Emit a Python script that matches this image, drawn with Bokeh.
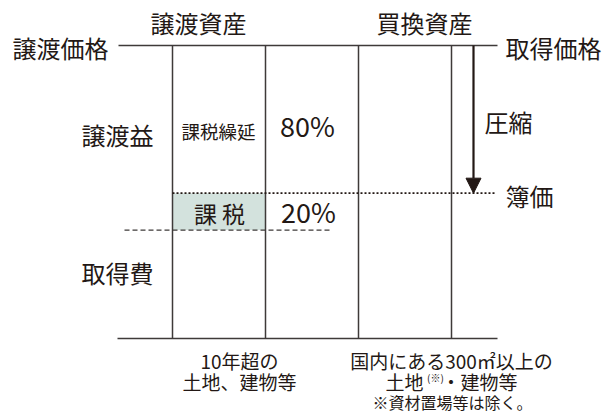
from bokeh.plotting import figure
from bokeh.models import Range1d, Arrow, NormalHead
from bokeh.core.properties import value
from bokeh.embed import file_html
from bokeh.resources import INLINE

# ---- data ----
sale_price = 100          # 譲渡価格
acquisition_cost = 37     # 取得費
deferral_pct = 80         # 課税繰延
tax_pct = 20              # 課税
asset_titles = ["譲渡資産", "買換資産"]
left_labels = ["譲渡価格", "譲渡益", "取得費"]
right_labels = ["取得価格", "圧縮", "簿価"]
pct_labels = [f"{deferral_pct}%", f"{tax_pct}%"]
box_labels = ["課税繰延", "課 税"]
col_lines = [0, 1, 2, 3]

gain = sale_price - acquisition_cost
book_level = acquisition_cost + gain * tax_pct / 100

# ---- pixel -> data helpers (layout only) ----
def X(px):
    return (px - 172) / 93.0

def Y(py):
    return (338 - py) / 2.93

W, H = 613, 412
p = figure(width=W, height=H, output_backend="svg", toolbar_location=None,
           x_range=Range1d(X(0), X(W)), y_range=Range1d(Y(H), Y(0)),
           min_border=0, outline_line_color=None)
p.axis.visible = False
p.grid.visible = False
p.background_fill_color = "white"

LC = "#3e3a39"
TC = "#231815"
FONT = value("Noto Sans CJK JP")

# shaded tax box
p.quad(left=col_lines[0], right=col_lines[1], bottom=acquisition_cost, top=book_level,
       fill_color="#d3e2dd", line_color=None)

# top and bottom lines
p.segment(x0=[X(118), X(117)], y0=[sale_price, 0], x1=[X(497), X(497)], y1=[sale_price, 0],
          line_color=LC, line_width=1.5)
# vertical lines
p.segment(x0=col_lines, y0=[0] * 4, x1=col_lines, y1=[sale_price] * 4,
          line_color=LC, line_width=1.5)
# dotted book value line
p.segment(x0=[col_lines[0]], y0=[book_level], x1=[X(495)], y1=[book_level],
          line_color="#231815", line_width=1.6, line_dash="2 2")
# dashed acquisition-cost line
p.segment(x0=[X(124)], y0=[acquisition_cost], x1=[X(330)], y1=[acquisition_cost],
          line_color=LC, line_width=1.3, line_dash="5 3")

# compression arrow
p.add_layout(Arrow(x_start=X(473), y_start=sale_price, x_end=X(473), y_end=book_level,
                   line_color="#231815", line_width=2.2,
                   end=NormalHead(size=15, fill_color="#231815", line_color="#231815")))

def txt(x, y, s, size, align="center"):
    p.text(x=[x], y=[y], text=[s], text_font=FONT, text_font_size=f"{size}px",
           text_align=align, text_baseline="middle", text_color=TC)

# titles
txt(X(198), Y(22), asset_titles[0], 24)
txt(X(424), Y(22), asset_titles[1], 24)
# left labels
txt(X(60), Y(47), left_labels[0], 24)
txt(X(117), Y(134), left_labels[1], 24)
txt(X(117), Y(272), left_labels[2], 24)
# right labels
txt(X(553), Y(47), right_labels[0], 24)
txt(X(508), Y(121), right_labels[1], 24)
txt(X(529), Y(195), right_labels[2], 24)
# box labels
txt(X(218), Y(130), box_labels[0], 18.5)
txt(X(219), Y(212), box_labels[1], 23)
txt(X(307), Y(125), pct_labels[0], 27)
txt(X(308), Y(211), pct_labels[1], 27)

# bottom captions
txt(X(239), Y(360), "10年超の", 19)
txt(X(239), Y(381), "土地、建物等", 19)
txt(X(451), Y(360), "国内にある300㎡以上の", 19)
txt(X(423), Y(381), "土地", 19, align="right")
txt(X(435), Y(377), "(※)", 10)
txt(X(441), Y(381), "・建物等", 19, align="left")
txt(X(452), Y(401), "※資材置場等は除く。", 16)

open("out.html", "w").write(file_html(p, INLINE))
